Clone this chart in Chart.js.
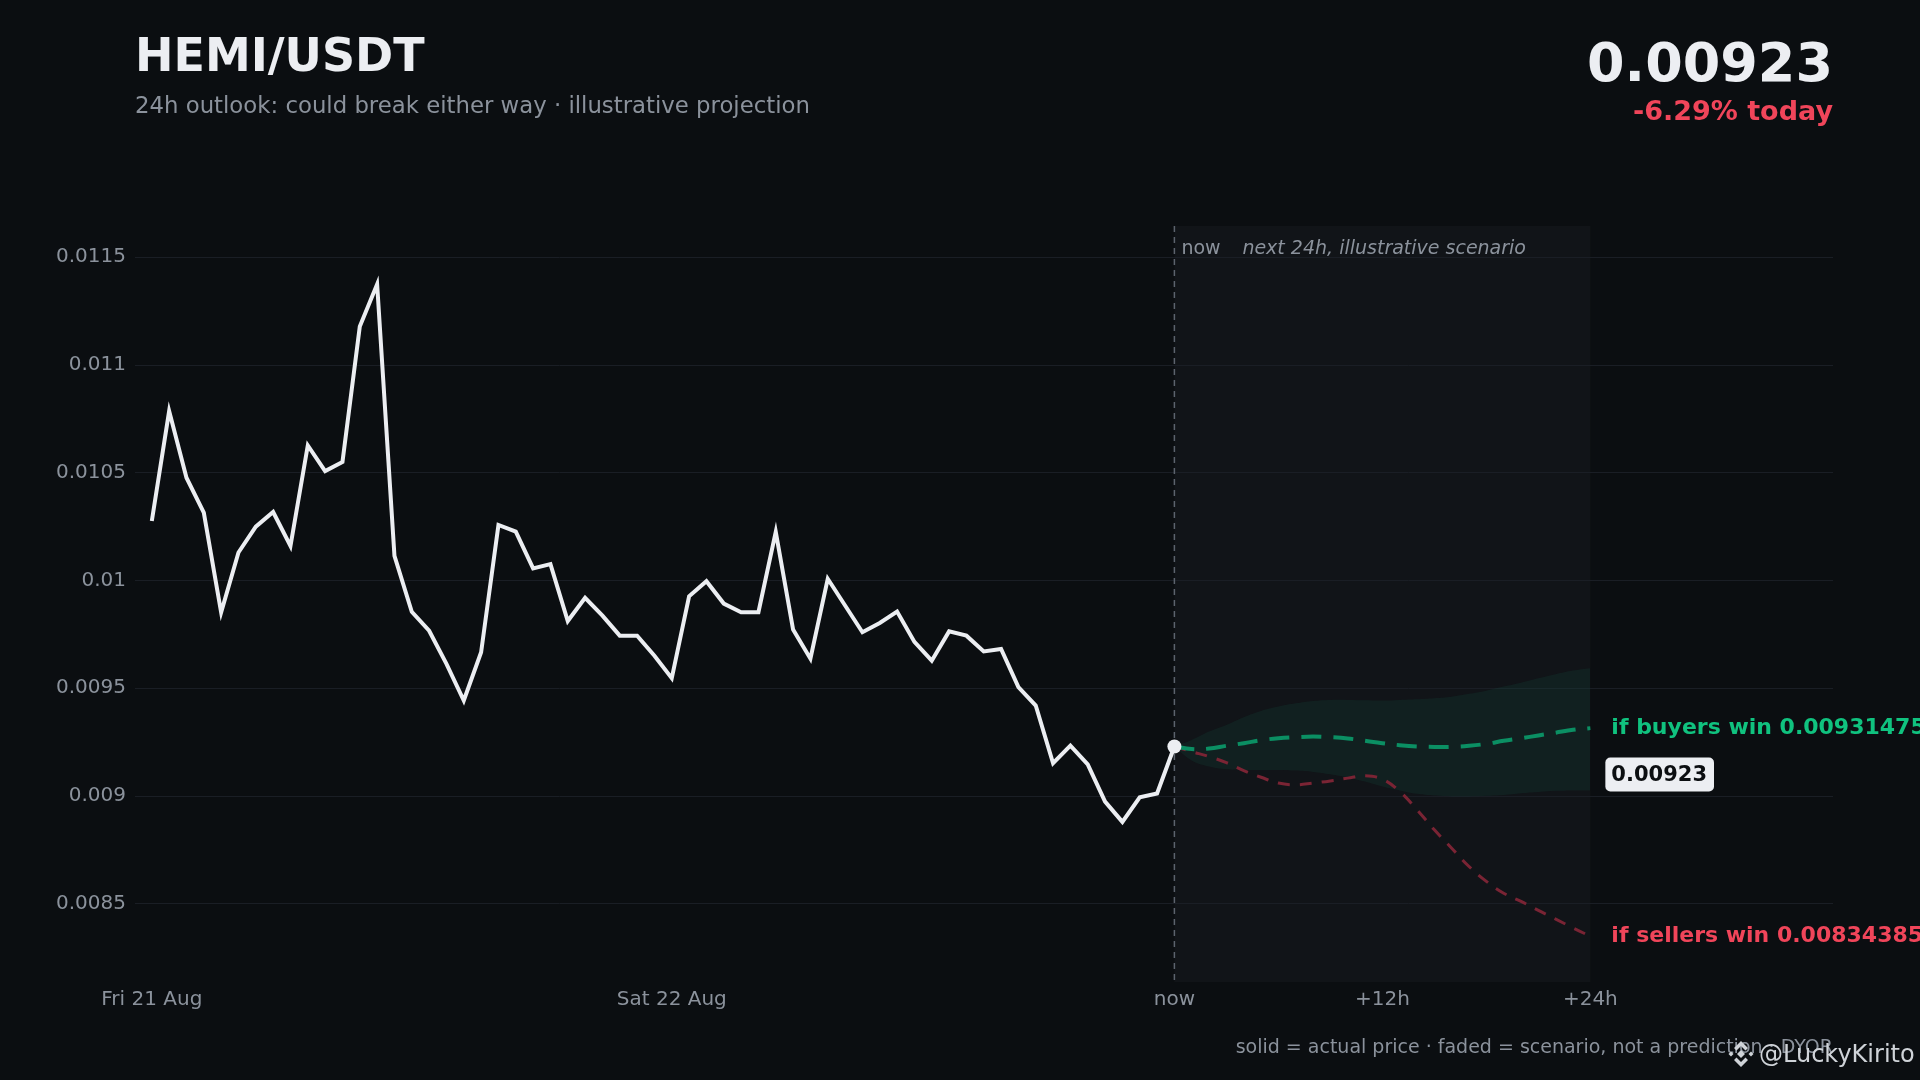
<!DOCTYPE html>
<html>
<head>
<meta charset="utf-8">
<script src="https://cdn.jsdelivr.net/npm/chart.js@4.4.1/dist/chart.umd.min.js"></script>
<style>
  body { margin: 0; background: #0b0e11; font-family: "DejaVu Sans", sans-serif; }
  #wrap { position: relative; width: 1920px; height: 1080px; overflow: hidden; }
  #chart { position: absolute; left: 0; top: 0; }
  .txt { position: absolute; white-space: nowrap; }
  #title { left: 135px; top: 32px; font-size: 46px; line-height: 46px; font-weight: bold; color: #eceef2; }
  #sub { left: 135px; top: 94px; font-size: 22.8px; line-height: 23px; color: #8b929c; }
  #price { right: 87px; top: 36px; font-size: 54px; line-height: 54px; font-weight: bold; color: #eceef2; }
  #change { right: 87px; top: 97px; font-size: 27px; line-height: 27px; font-weight: bold; color: #f0455a; }
  #foot { right: 87px; top: 1037px; font-size: 19px; line-height: 19px; color: #8b929c; }
  #mark { left: 1727px; top: 1040px; display: flex; align-items: center; gap: 4px; color: #cfd3d8; font-size: 24px; line-height: 24px; }
</style>
</head>
<body>
<div id="wrap">
  <canvas id="chart" width="1920" height="1080"></canvas>
  <div class="txt" id="title">HEMI/USDT</div>
  <div class="txt" id="sub">24h outlook: could break either way · illustrative projection</div>
  <div class="txt" id="price">0.00923</div>
  <div class="txt" id="change">-6.29% today</div>
  <div class="txt" id="foot">solid = actual price · faded = scenario, not a prediction · DYOR</div>
  <div class="txt" id="mark">
    <svg width="28" height="28" viewBox="0 0 28 28">
      <g fill="#cfd3d8">
        <polygon points="14,10 18,14 14,18 10,14"/>
        <polygon points="14,1 21,8 18.5,10.5 14,6 9.5,10.5 7,8"/>
        <polygon points="14,27 21,20 18.5,17.5 14,22 9.5,17.5 7,20"/>
        <polygon points="4,11.5 6.5,14 4,16.5 1.5,14"/>
        <polygon points="24,11.5 26.5,14 24,16.5 21.5,14"/>
      </g>
    </svg>
    <span>@LuckyKirito</span>
  </div>
</div>
<script>
// hourly closes, Fri 21 Aug -> now
const priceHistory = [
  0.010276, 0.010786, 0.010477, 0.010315, 0.009852, 0.010130, 0.010250, 0.010318, 0.010160, 0.010627,
  0.010508, 0.010550, 0.011179, 0.011375, 0.010114, 0.009855, 0.009767, 0.009613, 0.009443, 0.009667,
  0.010258, 0.010227, 0.010056, 0.010076, 0.009812, 0.009920, 0.009837, 0.009744, 0.009744, 0.009651,
  0.009547, 0.009927, 0.009997, 0.009893, 0.009853, 0.009853, 0.010226, 0.009772, 0.009637, 0.010008,
  0.009884, 0.009760, 0.009803, 0.009856, 0.009715, 0.009628, 0.009764, 0.009744, 0.009671, 0.009682,
  0.009505, 0.009420, 0.009152, 0.009234, 0.009147, 0.008974, 0.008880, 0.008994, 0.009012, 0.009230
];

// next 24h scenario, one value per hour (h0 = now)
const buyersPath = [
  0.009230, 0.009218, 0.009220, 0.009233, 0.009245, 0.009259, 0.009268, 0.009273, 0.009276, 0.009273,
  0.009267, 0.009256, 0.009245, 0.009236, 0.009230, 0.009228, 0.009228, 0.009233, 0.009242, 0.009256,
  0.009268, 0.009281, 0.009294, 0.009307, 0.009315
];
const sellersPath = [
  0.009230, 0.009206, 0.009183, 0.009155, 0.009118, 0.009087, 0.009060, 0.009052, 0.009060, 0.009070,
  0.009083, 0.009094, 0.009078, 0.009021, 0.008936, 0.008843, 0.008758, 0.008673, 0.008604, 0.008549,
  0.008511, 0.008469, 0.008429, 0.008388, 0.008349
];
const bandUpper = [
  0.009230, 0.009260, 0.009299, 0.009330, 0.009366, 0.009395, 0.009415, 0.009430, 0.009441, 0.009446,
  0.009446, 0.009444, 0.009443, 0.009446, 0.009449, 0.009454, 0.009461, 0.009474, 0.009489, 0.009508,
  0.009526, 0.009546, 0.009565, 0.009582, 0.009593
];
const bandLower = [
  0.009230, 0.009165, 0.009137, 0.009124, 0.009121, 0.009121, 0.009121, 0.009118, 0.009112, 0.009101,
  0.009086, 0.009067, 0.009044, 0.009026, 0.009010, 0.009002, 0.008998, 0.008998, 0.009001, 0.009005,
  0.009013, 0.009019, 0.009024, 0.009026, 0.009026
];

const xTickPos = [0, 30, 59, 71, 83];
const xTickLabels = ['Fri 21 Aug', 'Sat 22 Aug', 'now', '+12h', '+24h'];
const yTicks = [0.0085, 0.009, 0.0095, 0.01, 0.0105, 0.011, 0.0115];

const currentPrice = 0.00923;
const buyersLabel = 'if buyers win 0.00931475';
const sellersLabel = 'if sellers win 0.00834385';

const nowIdx = priceHistory.length - 1;
const hist = priceHistory.map((v, i) => ({ x: i, y: v }));
const proj = arr => arr.map((v, h) => ({ x: nowIdx + h, y: v }));

const grey = '#8b929c';
Chart.defaults.font.family = '"DejaVu Sans", sans-serif';
Chart.defaults.color = grey;

const overlay = {
  id: 'overlay',
  beforeDraw(chart) {
    const { ctx, chartArea: a, scales: { x } } = chart;
    const x0 = x.getPixelForValue(nowIdx), x1 = x.getPixelForValue(nowIdx + 24);
    ctx.save();
    ctx.fillStyle = '#111418';
    ctx.fillRect(x0, a.top, x1 - x0, a.bottom - a.top);
    ctx.restore();
  },
  beforeDatasetsDraw(chart) {
    const { ctx, chartArea: a, scales: { x } } = chart;
    const x0 = x.getPixelForValue(nowIdx);
    ctx.save();
    ctx.strokeStyle = '#5c636d';
    ctx.lineWidth = 1.5;
    ctx.setLineDash([6, 5]);
    ctx.beginPath();
    ctx.moveTo(x0, a.top);
    ctx.lineTo(x0, a.bottom);
    ctx.stroke();
    ctx.setLineDash([]);
    ctx.fillStyle = grey;
    ctx.textBaseline = 'alphabetic';
    ctx.font = '19px "DejaVu Sans"';
    ctx.fillText('now', x0 + 7, a.top + 28);
    ctx.font = 'italic 19px "DejaVu Sans"';
    ctx.fillText('next 24h, illustrative scenario', x0 + 68, a.top + 28);
    ctx.restore();
  },
  afterDraw(chart) {
    const { ctx, scales: { x, y } } = chart;
    const xe = x.getPixelForValue(nowIdx + 24) + 21;
    ctx.save();
    ctx.textBaseline = 'middle';
    ctx.font = 'bold 22px "DejaVu Sans"';
    ctx.fillStyle = '#10c27f';
    ctx.fillText(buyersLabel, xe, y.getPixelForValue(buyersPath[buyersPath.length - 1]));
    ctx.fillStyle = '#f0455a';
    ctx.fillText(sellersLabel, xe, y.getPixelForValue(sellersPath[sellersPath.length - 1]));

    // current price tag
    const ty = y.getPixelForValue(currentPrice) + 28;
    ctx.font = 'bold 21px "DejaVu Sans"';
    const w = ctx.measureText(String(currentPrice)).width + 13;
    ctx.fillStyle = '#eceef2';
    ctx.beginPath();
    ctx.roundRect(xe - 6, ty - 17, w, 34, 5);
    ctx.fill();
    ctx.fillStyle = '#0b0e11';
    ctx.fillText(String(currentPrice), xe, ty + 1);
    ctx.restore();
  }
};

new Chart(document.getElementById('chart'), {
  type: 'line',
  data: {
    datasets: [
      {
        label: 'price',
        data: hist,
        borderColor: '#eceef2',
        borderWidth: 4,
        borderJoinStyle: 'miter',
        pointRadius: c => (c.dataIndex === nowIdx ? 7 : 0),
        pointBackgroundColor: '#eceef2',
        pointBorderWidth: 0,
        tension: 0
      },
      {
        label: 'buyers',
        data: proj(buyersPath),
        borderColor: '#0b8f63',
        borderWidth: 4,
        borderDash: [20, 12],
        pointRadius: 0,
        tension: 0.4
      },
      {
        label: 'sellers',
        data: proj(sellersPath),
        borderColor: '#7a2434',
        borderWidth: 3,
        borderDash: [12, 10],
        pointRadius: 0,
        tension: 0.4
      },
      {
        label: 'upper',
        data: proj(bandUpper),
        borderWidth: 0,
        pointRadius: 0,
        tension: 0.4,
        fill: false
      },
      {
        label: 'lower',
        data: proj(bandLower),
        borderWidth: 0,
        pointRadius: 0,
        tension: 0.4,
        fill: '-1',
        backgroundColor: 'rgba(16, 150, 105, 0.10)'
      }
    ]
  },
  options: {
    responsive: false,
    animation: false,
    devicePixelRatio: 1,
    layout: { padding: { left: 0, top: 226, right: 87, bottom: 48 } },
    plugins: { legend: { display: false }, tooltip: { enabled: false } },
    scales: {
      x: {
        type: 'linear',
        min: -0.97,
        max: 97,
        grid: { display: false },
        border: { display: false },
        afterBuildTicks: s => { s.ticks = xTickPos.map(v => ({ value: v })); },
        afterFit: s => { s.height = 50; },
        ticks: {
          padding: -2,
          maxRotation: 0,
          autoSkip: false,
          font: { size: 20 },
          color: grey,
          callback: v => xTickLabels[xTickPos.indexOf(v)]
        }
      },
      y: {
        min: 0.008137,
        max: 0.011645,
        grid: { color: '#1a1e25', lineWidth: 1, drawTicks: false },
        border: { display: false },
        afterBuildTicks: s => { s.ticks = yTicks.map(v => ({ value: v })); },
        afterFit: s => { s.width = 135; },
        ticks: {
          padding: 9,
          font: { size: 20 },
          color: grey,
          callback: v => String(+v.toFixed(4))
        }
      }
    }
  },
  plugins: [overlay]
});
</script>
</body>
</html>
